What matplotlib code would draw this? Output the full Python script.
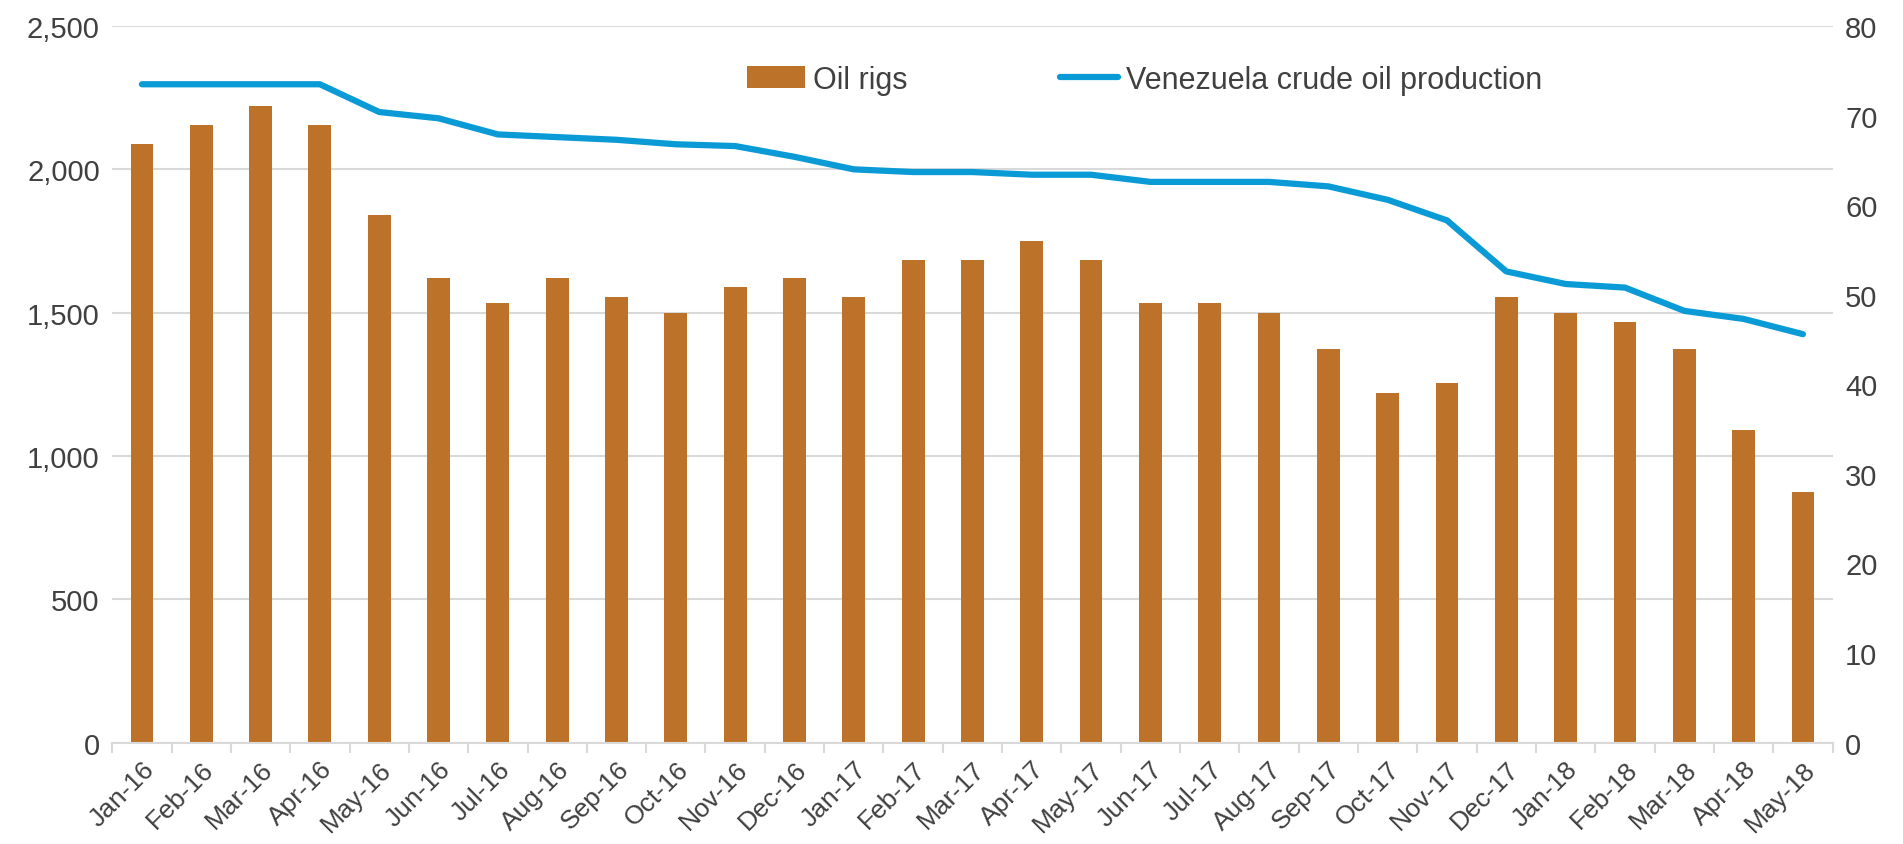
import numpy as np
import matplotlib.pyplot as plt
from matplotlib.ticker import FuncFormatter, FixedLocator

plt.rcParams['font.family'] = ['Liberation Sans', 'DejaVu Sans']

# %% Data
months = ['Jan-16', 'Feb-16', 'Mar-16', 'Apr-16', 'May-16', 'Jun-16', 'Jul-16', 'Aug-16',
          'Sep-16', 'Oct-16', 'Nov-16', 'Dec-16', 'Jan-17', 'Feb-17', 'Mar-17', 'Apr-17',
          'May-17', 'Jun-17', 'Jul-17', 'Aug-17', 'Sep-17', 'Oct-17', 'Nov-17', 'Dec-17',
          'Jan-18', 'Feb-18', 'Mar-18', 'Apr-18', 'May-18']
oil_rigs = [2090, 2155, 2220, 2155, 1840, 1620, 1532, 1620,
            1555, 1500, 1588, 1620, 1555, 1685, 1685, 1750,
            1685, 1532, 1532, 1500, 1373, 1221, 1254, 1555,
            1500, 1466, 1373, 1092, 873]
production = [73.5, 73.5, 73.5, 73.5, 70.4, 69.7, 67.9, 67.6,
              67.3, 66.8, 66.6, 65.4, 64.0, 63.7, 63.7, 63.4,
              63.4, 62.6, 62.6, 62.6, 62.1, 60.6, 58.3, 52.6,
              51.2, 50.8, 48.2, 47.3, 45.6]

bar_color = '#BD7229'
line_color = '#0A9BD7'
grid_color = '#D9D9D9'
text_color = '#404040'

# %% Plot
fig = plt.figure(figsize=(19.03, 8.45), dpi=100)
ax = fig.add_axes([0.059, 0.12, 0.904, 0.848])
ax2 = ax.twinx()

x = np.arange(len(months))
bars = ax.bar(x, oil_rigs, width=0.385, color=bar_color, label='Oil rigs', zorder=2)
line, = ax2.plot(x, production, color=line_color, lw=4.5, solid_capstyle='round',
                 label='Venezuela crude oil production', zorder=3)

ax.set_xlim(-0.5, len(months) - 0.5)
ax.set_ylim(0, 2500)
ax2.set_ylim(0, 80)
ax.set_yticks(np.arange(0, 2501, 500))
ax2.set_yticks(np.arange(0, 81, 10))
ax.yaxis.set_major_formatter(FuncFormatter(lambda v, p: f'{int(v):,}'))

ax.grid(axis='y', color=grid_color, lw=1.5, zorder=0)
ax.set_axisbelow(True)

for a in (ax, ax2):
    for s in ('top', 'left', 'right', 'bottom'):
        a.spines[s].set_visible(False)
ax.tick_params(axis='y', length=0, labelsize=21, labelcolor=text_color, pad=9)
ax2.tick_params(axis='y', length=0, labelsize=21, labelcolor=text_color, pad=9)

ax.spines['bottom'].set_visible(True)
ax.spines['bottom'].set_color(grid_color)
ax.spines['bottom'].set_linewidth(1.5)

ax.set_xticks(x)
ax.set_xticklabels(months, rotation=45, ha='right', rotation_mode='anchor')
ax.tick_params(axis='x', which='major', length=0, labelsize=19, labelcolor=text_color, pad=10)
ax.xaxis.set_minor_locator(FixedLocator(np.arange(-0.5, len(months), 1)))
ax.tick_params(axis='x', which='minor', length=7, width=1.5, color=grid_color)

ax.legend([bars, line], ['Oil rigs', 'Venezuela crude oil production'],
          loc='center', bbox_to_anchor=(0.6, 0.925), ncol=2, frameon=False,
          fontsize=22, columnspacing=5, handlelength=1.9, handletextpad=0.25,
          labelcolor=text_color)

fig.savefig('out.png', dpi=100, facecolor='white')
